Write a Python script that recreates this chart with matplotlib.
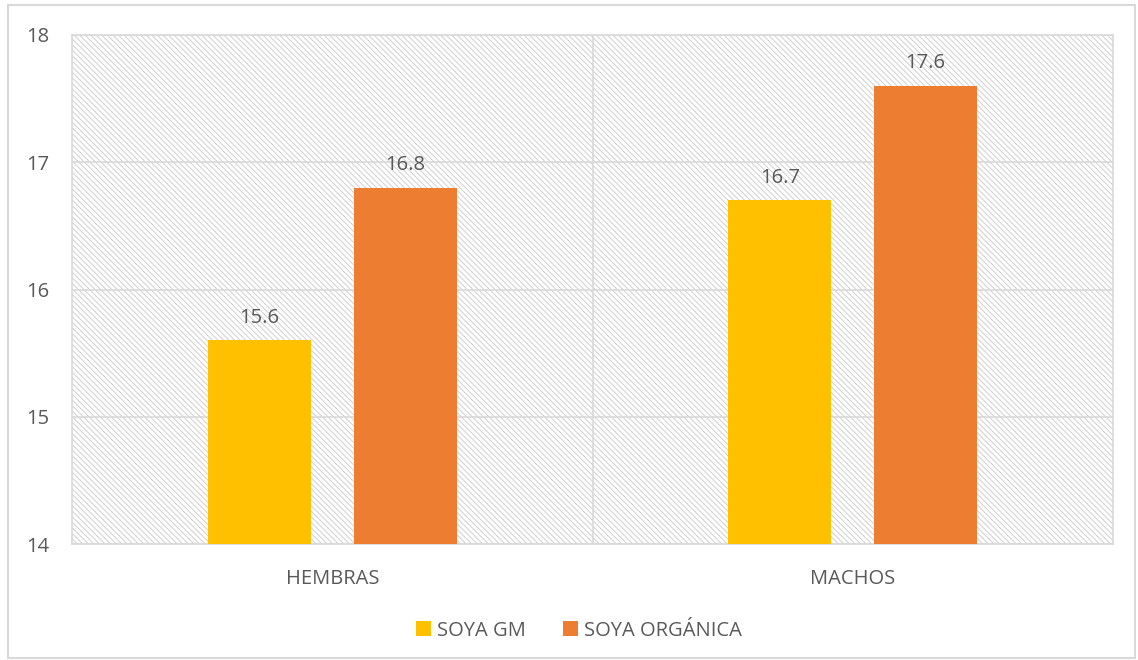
import matplotlib.pyplot as plt
import numpy as np
from matplotlib.patches import Rectangle

categories = ['HEMBRAS', 'MACHOS']
soya_gm = [15.6, 16.7]
soya_organica = [16.8, 17.6]
series_names = ['SOYA GM', 'SOYA ORGÁNICA']
colors = ['#FFC000', '#ED7D31']

plt.rcParams['font.family'] = ['Open Sans', 'DejaVu Sans']
plt.rcParams['hatch.color'] = '#d4d4d4'
plt.rcParams['hatch.linewidth'] = 0.8
text_color = '#595959'
grid_color = '#d9d9d9'
fs = 14.5

fig = plt.figure(figsize=(11.38, 6.6), dpi=100)
# outer chart border
fig.patches.append(Rectangle((8 / 1138, 2 / 660), 1127 / 1138, 653 / 660,
                             transform=fig.transFigure, fill=False,
                             edgecolor=grid_color, linewidth=1.5))

ax = fig.add_axes([72 / 1138, 116 / 660, 1041 / 1138, 509 / 660])

# hatched plot area background
ax.add_patch(Rectangle((0, 0), 1, 1, transform=ax.transAxes, facecolor='white',
                       hatch='\\\\\\\\\\\\', edgecolor='#d4d4d4', linewidth=0, zorder=0))

x = np.arange(len(categories))
width = 0.198
offset = 0.14
b1 = ax.bar(x - offset, soya_gm, width, color=colors[0], label=series_names[0], zorder=3)
b2 = ax.bar(x + offset, soya_organica, width, color=colors[1], label=series_names[1], zorder=3)

for bars, vals in [(b1, soya_gm), (b2, soya_organica)]:
    for bar, v in zip(bars, vals):
        ax.text(bar.get_x() + bar.get_width() / 2, v + 0.1, f'{v:.1f}',
                ha='center', va='bottom', fontsize=fs, color=text_color)

ax.set_ylim(14, 18)
ax.set_xlim(-0.5, 1.5)
ax.set_yticks([14, 15, 16, 17, 18])
ax.set_xticks(x)
ax.set_xticklabels(categories)
ax.tick_params(axis='both', length=0, labelsize=fs, labelcolor=text_color)
ax.tick_params(axis='y', pad=16)
ax.tick_params(axis='x', pad=18)

ax.yaxis.grid(True, color=grid_color, linewidth=1.2, zorder=1)
ax.axvline(0.5, color=grid_color, linewidth=1.2, zorder=1)
for s in ax.spines.values():
    s.set_color(grid_color)
    s.set_linewidth(1.2)

ax.legend(loc='center', bbox_to_anchor=(0.487, -0.17), ncol=2, frameon=False,
          fontsize=fs, labelcolor=text_color, handlelength=0.75, handleheight=0.75,
          columnspacing=1.8, handletextpad=0.3)

fig.savefig('out.png', dpi=100)
